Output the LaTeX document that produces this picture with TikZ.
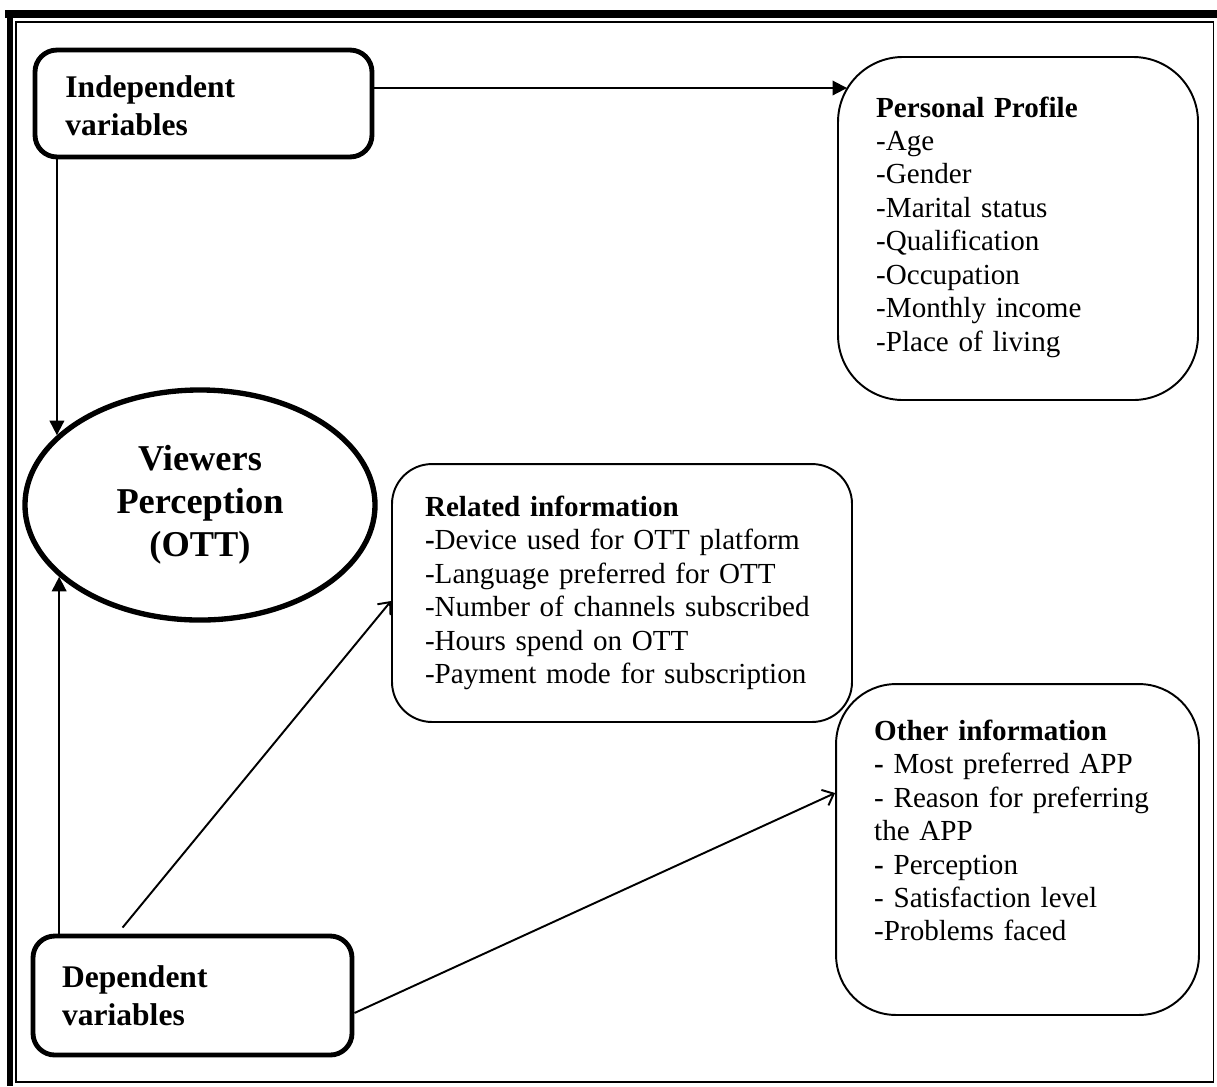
\documentclass[tikz,border=0pt]{standalone}
\usepackage{fontspec}
\setmainfont{Liberation Serif}
\usetikzlibrary{arrows.meta, shapes.geometric}
\newcommand{\headfont}{\fontsize{13}{15.5}\selectfont\bfseries}
\newcommand{\itemfont}{\fontsize{12}{13.8}\selectfont}
\newcommand{\ovalfont}{\fontsize{15}{17.7}\selectfont\bfseries}
\tikzstyle{varbox}=[draw, line width=2pt, rounded corners=9pt, align=left, font=\headfont]
\tikzstyle{infobox}=[draw, line width=0.8pt, align=left, font=\itemfont]
\tikzstyle{fillarrow}=[line width=0.8pt, -{Triangle[length=6pt,width=6pt]}]
\tikzstyle{openarrow}=[line width=0.8pt, -{Straight Barb[length=4pt,width=7pt]}]

\begin{document}
\begin{tikzpicture}[x=0.4125pt, y=-0.4125pt]
    \useasboundingbox (0,0) rectangle (1217,1086);
% Frame
    \fill (5,10) rectangle (1217,18);
    \fill (7,10) rectangle (12.5,1086);
    \draw[line width=0.8pt] (16,22) rectangle (1213.5,1082);
% Variable boxes
    \node[varbox, minimum width=139pt, minimum height=44.1pt, text width=114pt, inner xsep=12.4pt] (ind) at (203.5,103.5) {Independent\\variables\\[-17pt]\mbox{}};
    \node[varbox, minimum width=131.6pt, minimum height=49.1pt, text width=107.5pt, inner xsep=12pt] (dep) at (192.5,995.5) {Dependent\\variables};
% Perception oval
    \node[ellipse, draw, line width=2.2pt, minimum width=144.4pt, minimum height=94.9pt, inner sep=0pt, align=center, font=\ovalfont] (vp) at (200,505) {Viewers\\Perception\\(OTT)};
% Information boxes
    \node[infobox, rounded corners=26.8pt, minimum width=148.5pt, minimum height=141.5pt, text width=117pt, inner xsep=15.7pt] (pp) at (1018,228.5)
        {\textbf{Personal Profile}\\-Age\\-Gender\\-Marital status\\-Qualification\\-Occupation\\-Monthly income\\-Place of living\\[-10pt]\mbox{}};
    \node[infobox, rounded corners=16.5pt, minimum width=189.75pt, minimum height=106.4pt, text width=162.5pt, inner xsep=13.6pt] (rel) at (622,593)
        {\textbf{Related information}\\\textbf{-}Device used for OTT platform\\-Language preferred for OTT\\-Number of channels subscribed\\-Hours spend on OTT\\-Payment mode for subscription};
    \node[infobox, rounded corners=24.75pt, minimum width=149.7pt, minimum height=136.5pt, text width=118.2pt, inner xsep=15.7pt] (oth) at (1017.5,849.5)
        {\textbf{Other information}\\\textbf{-} Most preferred APP\\- Reason for preferring\\the APP\\\textbf{-} Perception\\- Satisfaction level\\-Problems faced\\[2pt]\mbox{}};
% Arrows
    \draw[fillarrow] ([shift={(0,-15.5)}]ind.east) -- ([shift={(10,-140.5)}]pp.west);
    \draw[fillarrow] (ind.south west -| vp.154) -- (vp.154);
    \draw[fillarrow] (dep.north west -| vp.207) -- (vp.207);
    \draw[openarrow] ([shift={(92,-6)}]dep.north west) -- ([shift={(0,8)}]rel.west);
    \draw[openarrow] ([shift={(0,17.5)}]dep.east) -- ([shift={(0,-56.5)}]oth.west);
\end{tikzpicture}
\end{document}
